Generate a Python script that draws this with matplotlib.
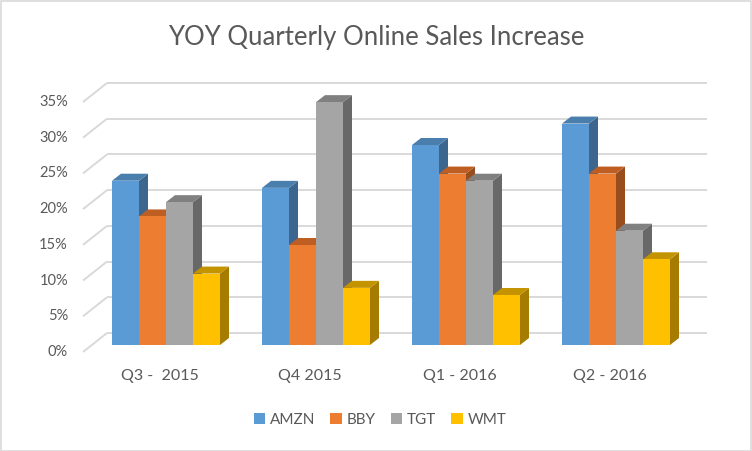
import matplotlib
matplotlib.use("Agg")
import matplotlib.pyplot as plt
from matplotlib.patches import Polygon, Rectangle, Patch

# ---- data ----
categories = ["Q3 -  2015", "Q4 2015", "Q1 - 2016", "Q2 - 2016"]
series_names = ["AMZN", "BBY", "TGT", "WMT"]
amzn = [23, 22, 28, 31]
bby = [18, 14, 24, 24]
tgt = [20, 34, 23, 16]
wmt = [10, 8, 7, 12]
series_values = [amzn, bby, tgt, wmt]
y_ticks = [0, 5, 10, 15, 20, 25, 30, 35]

# ---- styles ----
front_colors = ["#5B9BD5", "#ED7D31", "#A5A5A5", "#FFC000"]
top_colors = ["#4A7EAD", "#BE5E22", "#808080", "#C49400"]
side_colors = ["#3C668D", "#9A4D1C", "#686868", "#A67C00"]
text_color = "#595959"
grid_color = "#D9D9D9"
FONT = ["Lato", "DejaVu Sans"]

W, H = 752, 451
PXX = 150.0            # pixels per category unit
PXY = 250.0 / 35.0     # pixels per percent
X0PIX, Y0PIX = 166.0, 345.0

fig = plt.figure(figsize=(W / 100, H / 100), dpi=100)
ax = fig.add_axes([0, 0, 1, 1])
ax.set_xlim(-X0PIX / PXX, (W - X0PIX) / PXX)
ax.set_ylim((Y0PIX - H) / PXY, Y0PIX / PXY)
ax.axis("off")

# depth offsets (in data units)
bdx, bdy = 9 / PXX, 7 / PXY          # bar depth
wdx, wdy = 15 / PXX, 12 / PXY        # back wall behind bar plane
fdx, fdy = -9 / PXX, -7 / PXY        # front floor edge in front of bar plane
wall_left = -74 / PXX                # left wall in bar plane
wall_right = (707 - X0PIX) / PXX

for v in y_ticks:
    ax.plot([wall_left + fdx, wall_left + wdx], [v + fdy, v + wdy],
            color=grid_color, lw=1.4, zorder=0, solid_capstyle="butt")
    ax.plot([wall_left + wdx, wall_right], [v + wdy, v + wdy],
            color=grid_color, lw=1.4, zorder=0, solid_capstyle="butt")
    ax.text(wall_left + fdx - 15 / PXX, v + fdy, f"{v}%", ha="right", va="center",
            fontsize=10.5, color=text_color, family=FONT)

bw = 0.18
for j, vals in enumerate(series_values):
    xs = [i + (j - 1.5) * bw for i in range(len(categories))]
    z = 2 + j * 3
    for x, h in zip(xs, vals):
        L, R = x - bw / 2, x + bw / 2
        side = Polygon([(R, 0), (R + bdx, bdy), (R + bdx, h + bdy), (R, h)],
                       closed=True, facecolor=side_colors[j], edgecolor="none", zorder=z)
        top = Polygon([(L, h), (R, h), (R + bdx, h + bdy), (L + bdx, h + bdy)],
                      closed=True, facecolor=top_colors[j], edgecolor="none", zorder=z + 1)
        ax.add_patch(side)
        ax.add_patch(top)
    ax.bar(xs, vals, width=bw, color=front_colors[j], edgecolor="none", zorder=z + 2)

for i, c in enumerate(categories):
    ax.text(i - 6 / PXX, (Y0PIX - 376) / PXY, c, ha="center", va="center",
            fontsize=11.5, color=text_color, family=FONT)

fig.text(0.5, 1 - 37 / H, "YOY Quarterly Online Sales Increase", ha="center", va="center",
         fontsize=18.5, color=text_color, family=FONT)

handles = [Patch(facecolor=c, edgecolor="none") for c in front_colors]
leg = fig.legend(handles, series_names, loc="center", bbox_to_anchor=(380 / W, 1 - 420 / H),
                 ncol=4, frameon=False, handlelength=0.75, handleheight=0.75,
                 handletextpad=0.3, columnspacing=1.0,
                 prop={"family": FONT, "size": 11})
for t in leg.get_texts():
    t.set_color(text_color)

fig.patches.append(Rectangle((0.5 / W, 0.5 / H), 1 - 1.5 / W, 1 - 1.5 / H, transform=fig.transFigure,
                             fill=False, edgecolor=grid_color, lw=1.2))

fig.savefig("out.png", dpi=100)
